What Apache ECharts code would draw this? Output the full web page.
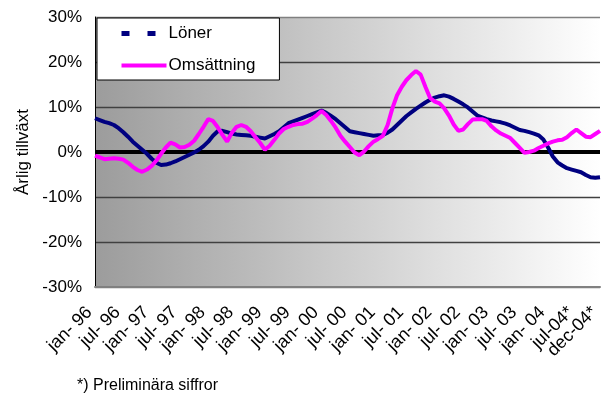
<!DOCTYPE html>
<html>
<head>
<meta charset="utf-8">
<script src="https://cdn.jsdelivr.net/npm/echarts@6/dist/echarts.min.js"></script>
<style>
html,body{margin:0;padding:0;background:#fff;}
#chart{width:603px;height:393px;}
</style>
</head>
<body>
<div id="chart"></div>
<script>
// Months jan-96 .. dec-04
const monthNames = ['jan','feb','mar','apr','maj','jun','jul','aug','sep','okt','nov','dec'];
const years = ['96','97','98','99','00','01','02','03','04'];
const categories = [];
years.forEach(y => monthNames.forEach(m => categories.push(m + '- ' + y)));

// Tick labels shown (index -> text)
const tickLabels = {
  0:'jan- 96', 6:'jul- 96', 12:'jan- 97', 18:'jul- 97', 24:'jan- 98', 30:'jul- 98',
  36:'jan- 99', 42:'jul- 99', 48:'jan- 00', 54:'jul- 00', 60:'jan- 01', 66:'jul- 01',
  72:'jan- 02', 78:'jul- 02', 84:'jan- 03', 90:'jul- 03', 96:'jan- 04', 102:'jul-04*'
};
const lastTickLabel = { 107: 'dec-04*' };

const loner = [
  7.5, 7.1, 6.7, 6.4, 6.0, 5.3, 4.4, 3.4, 2.3, 1.4, 0.5, -0.4,
  -1.5, -2.4, -2.9, -2.8, -2.5, -2.1, -1.6, -1.1, -0.6, -0.1, 0.5, 1.3,
  2.3, 3.6, 4.6, 4.7, 4.4, 4.1, 3.9, 3.8, 3.7, 3.6, 3.4, 3.2,
  3.0, 3.5, 4.0, 4.6, 5.5, 6.4, 6.8, 7.2, 7.6, 8.0, 8.4, 8.8,
  9.2, 8.7, 8.0, 7.3, 6.4, 5.5, 4.6, 4.4, 4.2, 4.0, 3.8, 3.6,
  3.7, 3.8, 4.3, 5.0, 6.0, 7.0, 8.0, 8.8, 9.6, 10.3, 11.0, 11.6,
  12.1, 12.4, 12.6, 12.3, 11.8, 11.2, 10.6, 9.9, 9.0, 8.1, 7.7, 7.3,
  7.0, 6.8, 6.6, 6.3, 5.9, 5.4, 4.9, 4.7, 4.4, 4.1, 3.7, 2.8,
  1.0, -1.0, -2.3, -3.0, -3.6, -3.9, -4.2, -4.5, -5.1, -5.6, -5.7, -5.6
];

const omsattning = [
  -0.8, -1.2, -1.6, -1.5, -1.4, -1.5, -1.7, -2.4, -3.3, -4.0, -4.4, -3.9,
  -3.1, -1.9, -0.4, 1.0, 2.1, 1.7, 1.0, 1.1, 1.6, 2.5, 4.0, 5.6,
  7.3, 6.9, 5.5, 3.8, 2.3, 4.3, 5.6, 6.0, 5.6, 4.6, 3.3, 2.0,
  0.5, 1.4, 2.7, 4.1, 5.1, 5.6, 6.0, 6.2, 6.3, 6.7, 7.4, 8.2,
  9.1, 8.2, 6.9, 5.4, 3.6, 2.3, 1.1, -0.1, -0.7, 0.1, 1.3, 2.3,
  2.9, 3.6, 6.0, 9.7, 12.6, 14.5, 16.0, 17.1, 18.0, 17.2, 14.5, 12.0,
  11.2, 10.8, 9.7, 8.1, 6.1, 4.7, 5.0, 6.2, 7.2, 7.3, 7.3, 6.9,
  5.7, 4.8, 4.1, 3.6, 3.1, 2.0, 0.9, -0.2, 0.0, 0.3, 0.9, 1.4,
  1.9, 2.3, 2.6, 2.7, 3.3, 4.2, 5.0, 4.2, 3.4, 3.3, 4.0, 4.7
];

const yTicks = { min: -30, max: 30, interval: 10 };
const seriesNames = ['Löner', 'Omsättning'];
const yTitle = 'Årlig tillväxt';
const footnote = '*) Preliminära siffror';

const chart = echarts.init(document.getElementById('chart'), null, { renderer: 'canvas' });
const FONT = '"Liberation Sans", Arial, sans-serif';

const labelBase = {
  rotate: 45,
  margin: 17,
  fontSize: 18,
  fontFamily: FONT,
  color: '#000',
  padding: [0, 8, 0, 0]
};

chart.setOption({
  animation: false,
  textStyle: { fontFamily: FONT, color: '#000' },
  grid: {
    left: 95, right: 3, top: 17, bottom: 106,
    show: true, borderWidth: 0,
    backgroundColor: new echarts.graphic.LinearGradient(0, 0, 1, 0, [
      { offset: 0, color: '#9c9c9c' },
      { offset: 1, color: '#ffffff' }
    ])
  },
  legend: {
    left: 97, top: 18,
    orient: 'vertical',
    backgroundColor: '#ffffff',
    borderColor: '#000', borderWidth: 1, borderRadius: 0,
    padding: [7, 24, 6, 22],
    itemGap: 15,
    itemWidth: 45, itemHeight: 16,
    textStyle: { fontSize: 17, fontFamily: FONT, color: '#000', padding: [0, 0, 0, -3] },
    data: [
      { name: seriesNames[0], itemStyle: { opacity: 0 }, lineStyle: { type: [8, 18], width: 5, color: '#000080' } },
      { name: seriesNames[1], itemStyle: { opacity: 0 }, lineStyle: { width: 4, color: '#ff00ff' } }
    ]
  },
  xAxis: [
    {
      type: 'category',
      data: categories,
      boundaryGap: false,
      position: 'bottom',
      axisLine: { show: true, onZero: false, lineStyle: { color: '#808080', width: 2 } },
      axisTick: { show: false },
      splitLine: { show: false },
      axisLabel: Object.assign({}, labelBase, {
        interval: (idx) => tickLabels.hasOwnProperty(idx),
        formatter: (val, idx) => tickLabels[idx] || ''
      })
    },
    {
      type: 'category',
      data: categories,
      boundaryGap: false,
      position: 'bottom',
      offset: 0,
      axisLine: { show: false, onZero: false },
      axisTick: { show: false },
      splitLine: { show: false },
      axisLabel: Object.assign({}, labelBase, {
        showMaxLabel: true,
        interval: (idx) => lastTickLabel.hasOwnProperty(idx),
        formatter: (val, idx) => lastTickLabel[idx] || ''
      })
    }
  ],
  yAxis: {
    type: 'value',
    min: yTicks.min, max: yTicks.max, interval: yTicks.interval,
    name: yTitle,
    nameLocation: 'middle',
    nameRotate: 90,
    nameGap: 57,
    nameTextStyle: { fontSize: 17, fontFamily: FONT, color: '#000' },
    axisLine: { show: true, lineStyle: { color: '#000', width: 1 } },
    axisTick: { show: false },
    axisLabel: {
      fontSize: 17, fontFamily: FONT, color: '#000', margin: 13,
      formatter: '{value}%'
    },
    splitLine: {
      show: true,
      lineStyle: { color: ['#808080', '#404040', '#404040', '#404040', '#404040', '#404040', '#808080'], width: 1.3 }
    }
  },
  series: [
    {
      name: seriesNames[0],
      type: 'line',
      xAxisIndex: 0,
      data: loner,
      symbol: 'none',
      lineStyle: { color: '#000080', width: 4 },
      itemStyle: { color: '#000080' },
      z: 3,
      markLine: {
        silent: true,
        symbol: 'none',
        label: { show: false },
        lineStyle: { color: '#000', width: 4, type: 'solid' },
        data: [{ yAxis: 0 }],
        z: 1
      }
    },
    {
      name: seriesNames[1],
      type: 'line',
      xAxisIndex: 0,
      data: omsattning,
      symbol: 'none',
      lineStyle: { color: '#ff00ff', width: 4 },
      itemStyle: { color: '#ff00ff' },
      z: 4
    }
  ],
  graphic: [
    {
      type: 'text',
      left: 77, top: 378,
      style: { text: footnote, fontSize: 16, fontFamily: FONT, fill: '#000' }
    }
  ]
});
</script>
</body>
</html>
